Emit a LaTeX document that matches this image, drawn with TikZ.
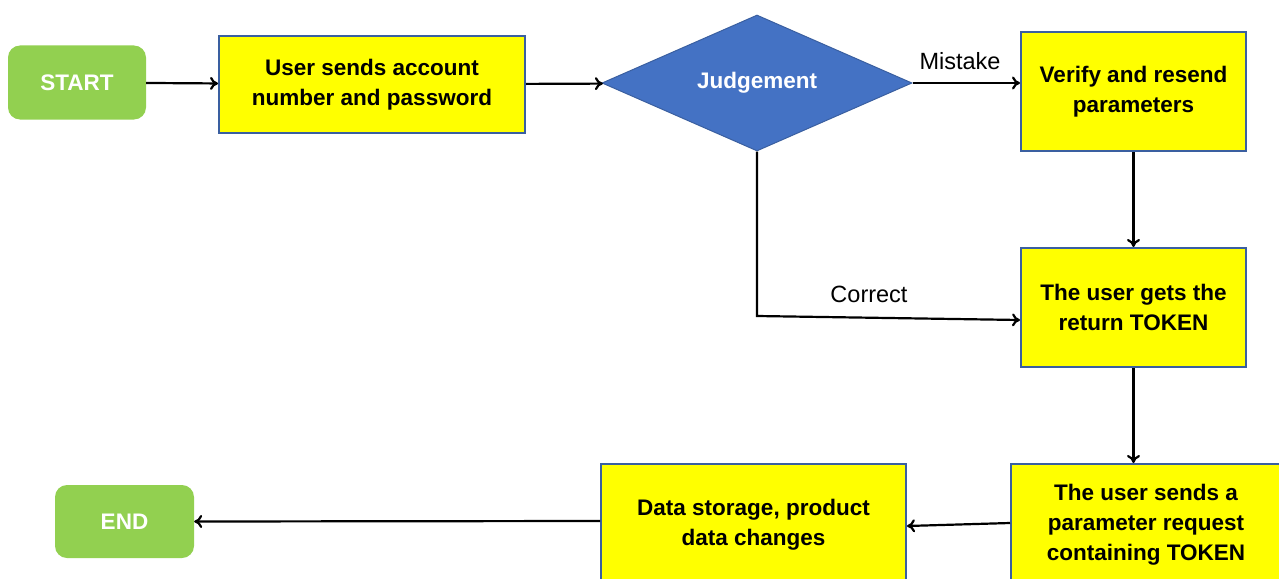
\documentclass[tikz,border=0pt]{standalone}
\usepackage{fontspec}
\setmainfont{Liberation Sans}
\usetikzlibrary{shapes.geometric,arrows.meta}
\definecolor{startgreen}{HTML}{92D050}
\definecolor{boxyellow}{HTML}{FFFF00}
\definecolor{boxblue}{HTML}{4472C4}
\definecolor{boxedge}{HTML}{3A5FA0}
\begin{document}
\begin{tikzpicture}[x=1pt,y=-1pt,
  every node/.style={font=\fontsize{22.5}{30}\selectfont\bfseries, align=center, inner sep=0pt},
  term/.style={fill=startgreen, rounded corners=12pt, text=white, minimum width=138pt, minimum height=74pt},
  procbox/.style={fill=boxyellow, draw=boxedge, line width=2pt},
  decide/.style={diamond, fill=boxblue, draw=boxedge, line width=1pt, text=white, minimum width=310pt, minimum height=136pt, aspect=2.28},
  lbl/.style={font=\fontsize{23.5}{28}\selectfont},
  flow/.style={line width=2.2pt, -{To[length=8pt,width=13pt,line width=2.2pt]}}
]
\useasboundingbox (0,0) rectangle (1279,578);
\clip (0,0) rectangle (1279,578);
\node[term] (start) at (77,82.5) {START};
\node[procbox, minimum width=306pt, minimum height=97pt] (b1) at (372,84.5) {User sends account\\number and password};
\node[decide] (dia) at (757,83) {\raisebox{-2pt}{Judgement}};
\node[procbox, minimum width=225pt, minimum height=119pt] (ver) at (1133.5,91.5) {Verify and resend\\parameters};
\node[procbox, minimum width=225pt, minimum height=119pt] (tok) at (1133.5,307.5) {The user gets the\\return TOKEN};
\node[procbox, minimum width=270pt, minimum height=122pt] (snd) at (1146,525) {The user sends a\\parameter request\\containing TOKEN};
\node[procbox, minimum width=305pt, minimum height=122pt] (dat) at (753.5,525) {Data storage, product\\data changes};
\node[term, minimum width=139pt, minimum height=73pt] (end) at (124.5,521.5) {END};
\coordinate (c1) at (757,316);
\node[lbl] (mis) at (960,61) {Mistake};
\node[lbl] (cor) at (869,294) {Correct};
\draw[flow] (start) -- (b1);
\draw[flow] (b1) -- (dia);
\draw[flow] (dia.east) -- (ver.west |- dia.east);
\draw[flow] (ver) -- (tok);
\draw[flow] (dia.south) -- (c1) -- ([yshift=-12.5pt]tok.west);
\draw[flow] (tok.south) -- (tok.south |- snd.north);
\draw[flow] ([yshift=2pt]snd.west) -- ([yshift=-1pt]dat.east);
\draw[flow] ([yshift=4pt]dat.west) -- (end.east);
\end{tikzpicture}
\end{document}
